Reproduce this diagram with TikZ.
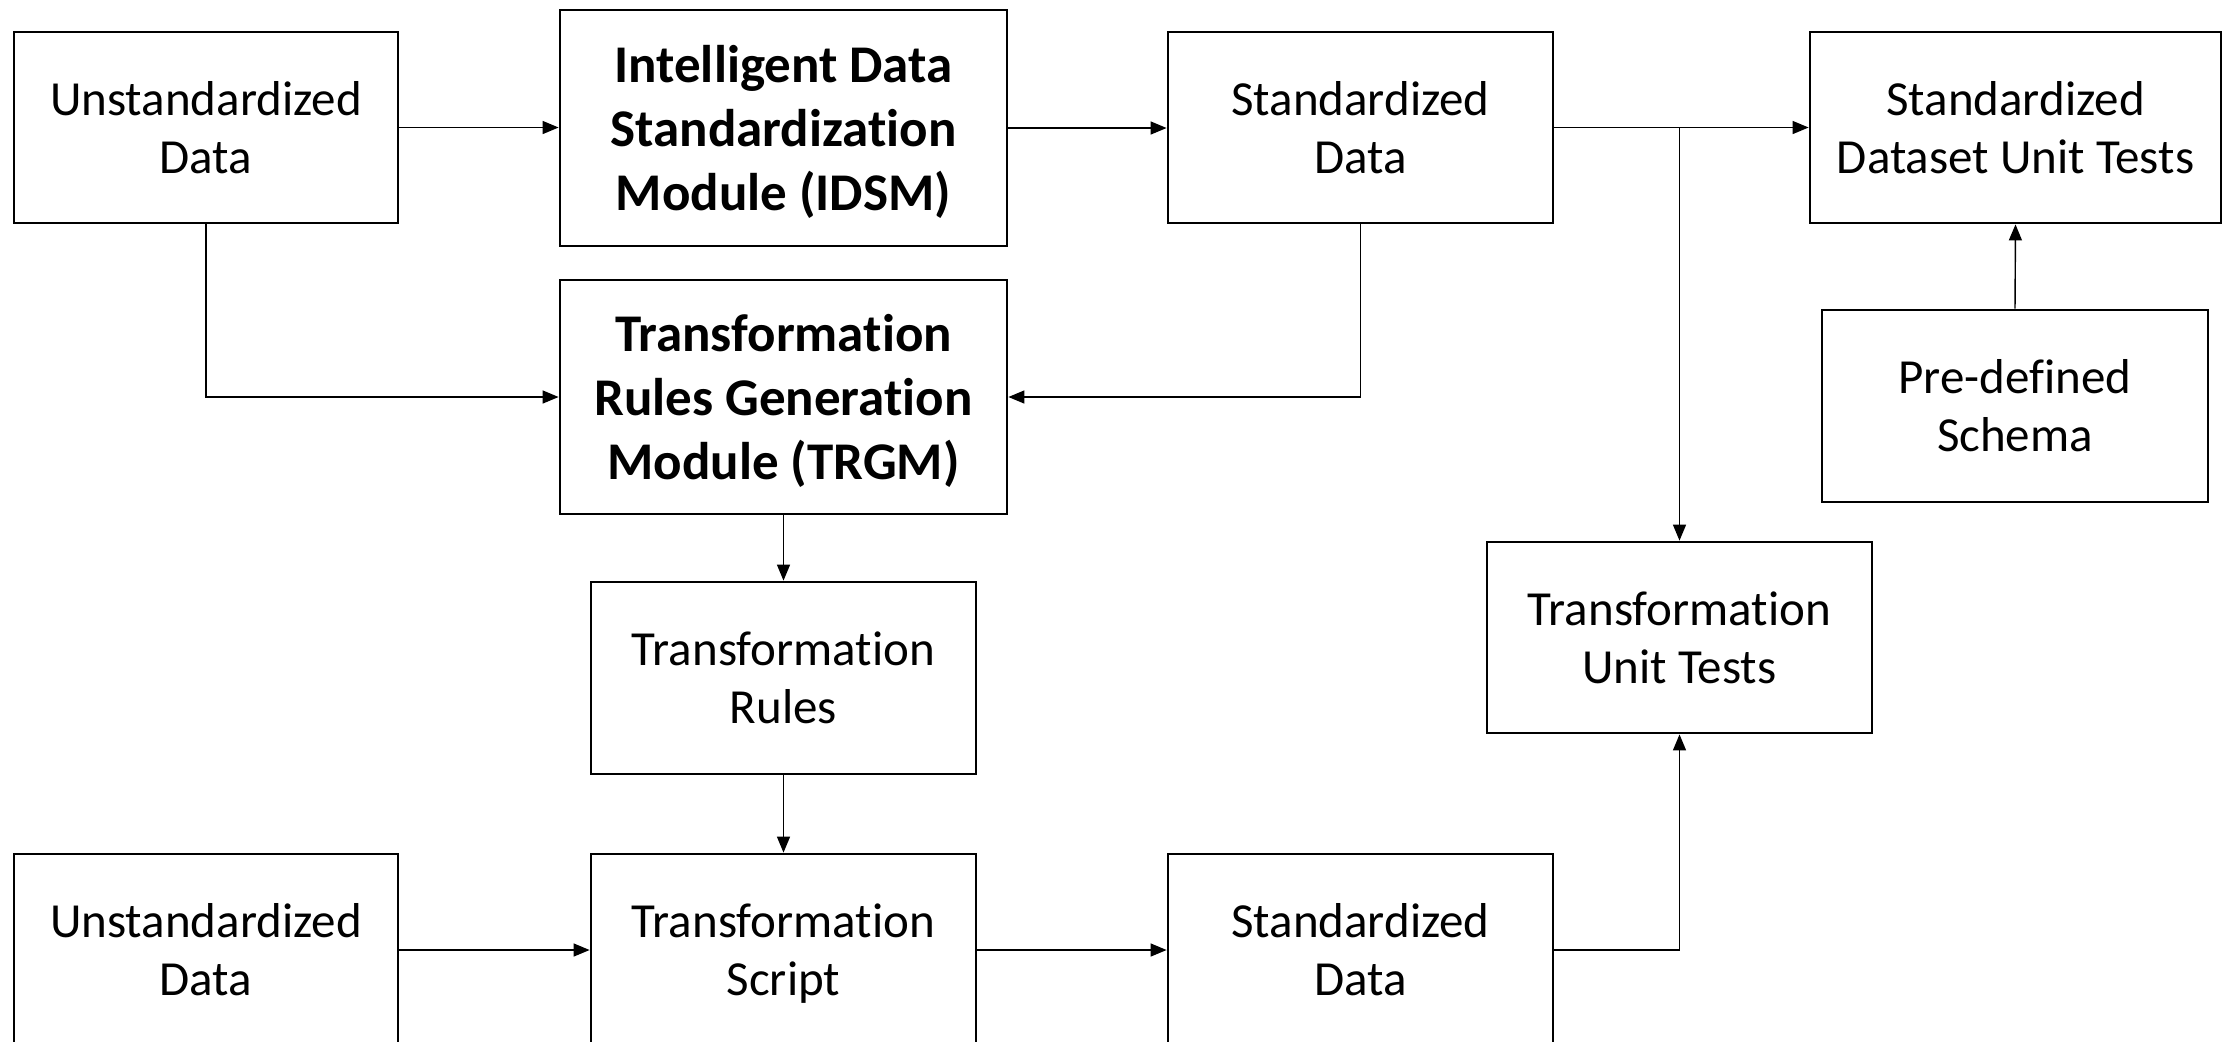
\documentclass[tikz,border=0pt]{standalone}
\usepackage{fontspec}
\setmainfont{Carlito}[Ligatures={NoCommon,NoRequired,NoContextual}]
\usetikzlibrary{arrows.meta}
\begin{document}
\begin{tikzpicture}[x=0.5pt,y=-0.5pt,
  box/.style={draw, line width=1.4pt, align=center, inner sep=0pt,
    font=\fontsize{24.5}{29}\selectfont, text height=55.5pt, text depth=10pt},
  bbox/.style={box, font=\fontsize{26.5}{32}\selectfont\bfseries,
    text height=92pt, text depth=10pt},
  sz/.style 2 args={minimum width={#1*0.5pt}, minimum height={#2*0.5pt}},
  conn/.style={line width=0.7pt, -{Triangle[length=8pt,width=6.5pt]}}]
\useasboundingbox (0,0) rectangle (2233,1041);
\fill[white] (0,0) rectangle (2233,1041);
\clip (0,0) rectangle (2233,1041);
% top row
\node[box, sz={384}{191}] (ud1) at (206,127.5) {Unstandardized\\Data};
\node[bbox, sz={447}{236}] (idsm) at (783.5,128) {Intelligent Data\\Standardization\\Module (IDSM)};
\node[box, sz={385}{191}] (sd1) at (1360.5,127.5) {Standardized\\Data};
\node[box, sz={411}{191}] (sdut) at (2015.5,127.5) {Standardized\\Dataset Unit Tests};
% middle
\node[bbox, sz={447}{234}] (trgm) at (783.5,397) {Transformation\\Rules Generation\\Module (TRGM)};
\node[box, sz={386}{192}] (pd) at (2015,406) {Pre-defined\\Schema};
\node[box, sz={385}{192}] (tr) at (783.5,678) {Transformation\\Rules};
\node[box, sz={385}{191}] (tut) at (1679.5,637.5) {Transformation\\Unit Tests};
% bottom row
\node[box, sz={384}{192}] (ud2) at (206,950) {Unstandardized\\Data};
\node[box, sz={385}{192}] (ts) at (783.5,950) {Transformation\\Script};
\node[box, sz={385}{192}] (sd2) at (1360.5,950) {Standardized\\Data};
% connectors
\draw[conn] (ud1.east) -- (ud1.east -| idsm.west);
\draw[conn] (idsm.east) -- (idsm.east -| sd1.west);
\draw[conn] (sd1.east) -- (sdut.west);
\coordinate (split) at (sd1.east -| tut.north);
\draw[conn] (split) -- (tut.north);
\draw[conn] (ud1.south) |- (trgm.west);
\draw[conn] (sd1.south) |- (trgm.east);
\draw[conn] (trgm.south) -- (tr.north);
\draw[conn] (tr.south) -- (ts.north);
\draw[conn] (ud2.east) -- (ts.west);
\draw[conn] (ts.east) -- (sd2.west);
\draw[conn] (sd2.east) -| (tut.south);
\draw[conn] (pd.north) -- (sdut.south);
\end{tikzpicture}
\end{document}
